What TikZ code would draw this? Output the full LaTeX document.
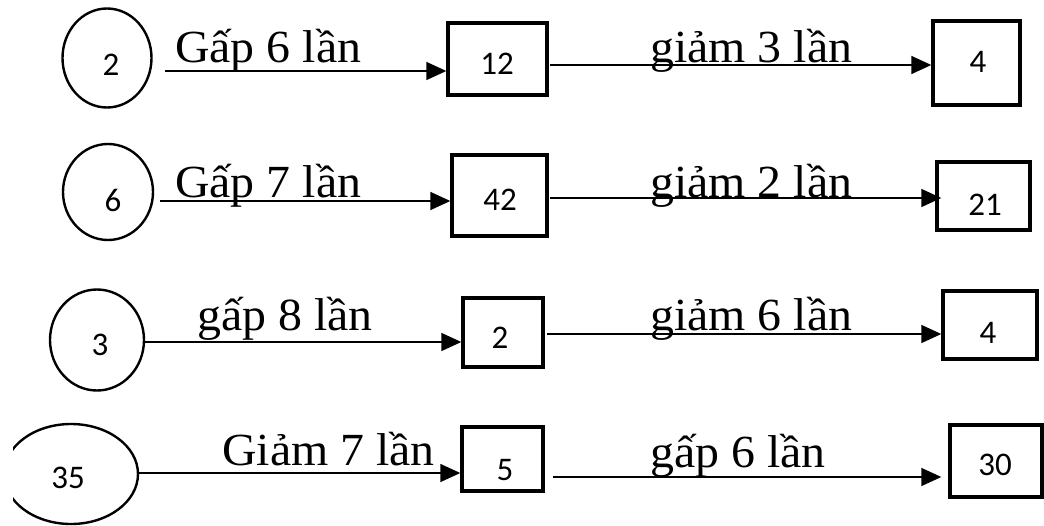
\documentclass[tikz,border=0pt]{standalone}
\usepackage{fontspec}
\setmainfont{Liberation Serif}
\newfontfamily\numfont{Carlito}
\usetikzlibrary{arrows.meta,shapes.geometric}
\tikzset{
  circ/.style={draw,ellipse,line width=2.4pt,inner sep=0pt},
  box/.style={draw,rectangle,line width=3.4pt,inner sep=0pt},
  num/.style={inner sep=0pt,font=\numfont\fontsize{33}{36}\selectfont,text=black},
  lbl/.style={inner sep=0pt,anchor=base west,font=\fontsize{46}{50}\selectfont},
  arr/.style={line width=1.6pt,-{Triangle[length=20pt,width=18pt]}}
}
\newcommand{\lab}[1]{\scalebox{1.04}[1]{#1}}
\begin{document}
\begin{tikzpicture}[x=1pt,y=-1pt]
\useasboundingbox (0,0) rectangle (1044,525);
\clip (13,0) rectangle (1044,525);
% row 1
\node[circ,minimum width=89pt,minimum height=99pt] (c1) at (107,58) {};
\node[num] (n1) at (111,65) {2};
\node[box,minimum width=99pt,minimum height=72pt] (b1) at (497.5,59) {};
\node[num] (n2) at (497,64) {12};
\node[box,minimum width=87pt,minimum height=84pt] (b2) at (976.5,63) {};
\node[num] (n3) at (978,62) {4};
\coordinate (s1) at (165,71);
\coordinate (s2) at (550,65);
\draw[arr] (s1) -- (s1 -| b1.west);
\draw[arr] (s2) -- (s2 -| b2.west);
\node[lbl] (l1) at (175,62) {\lab{Gấp 6 lần}};
\node[lbl] (l2) at (650,62) {\lab{giảm 3 lần}};
% row 2
\node[circ,minimum width=90pt,minimum height=96pt] (c2) at (108,192) {};
\node[num] (n4) at (113,200) {6};
\node[box,minimum width=95pt,minimum height=81pt] (b3) at (499.5,195.5) {};
\node[num] (n5) at (500,200) {42};
\node[box,minimum width=93pt,minimum height=68pt] (b4) at (983.5,196) {};
\node[num] (n6) at (985,205) {21};
\coordinate (s3) at (160,201);
\coordinate (s4) at (550,198);
\draw[arr] (s3) -- (s3 -| b3.west);
\draw[arr,shorten >=-6pt] (s4) -- (s4 -| b4.west);
\node[lbl] (l3) at (175,197) {\lab{Gấp 7 lần}};
\node[lbl] (l4) at (650,197) {\lab{giảm 2 lần}};
% row 3
\node[circ,minimum width=94pt,minimum height=101pt] (c3) at (97,340) {};
\node[num] (n7) at (100,345) {3};
\node[box,minimum width=80pt,minimum height=69pt] (b5) at (503,332.5) {};
\node[num] (n8) at (500,338) {2};
\node[box,minimum width=94pt,minimum height=68pt] (b6) at (990,325) {};
\node[num] (n9) at (988,333) {4};
\coordinate (s5) at (144,342);
\coordinate (s6) at (547,334);
\draw[arr] (s5) -- (s5 -| b5.west);
\draw[arr] (s6) -- (s6 -| b6.west);
\node[lbl] (l5) at (197,330) {\lab{gấp 8 lần}};
\node[lbl] (l6) at (650,330) {\lab{giảm 6 lần}};
% row 4
\node[circ,minimum width=134pt,minimum height=100pt] (c4) at (71,474) {};
\node[num] (n10) at (68,478) {35};
\node[box,minimum width=81pt,minimum height=64pt] (b7) at (502.5,459) {};
\node[num] (n11) at (505,470) {5};
\node[box,minimum width=92pt,minimum height=72pt] (b8) at (996,461) {};
\node[num] (n12) at (995,465) {30};
\coordinate (s7) at (138,473);
\coordinate (s8) at (553,477);
\draw[arr] (s7) -- (s7 -| b7.west);
\draw[arr,shorten >=7pt] (s8) -- (s8 -| b8.west);
\node[lbl] (l7) at (222,465) {\lab{Giảm 7 lần}};
\node[lbl] (l8) at (650,467) {\lab{gấp 6 lần}};
\end{tikzpicture}
\end{document}
